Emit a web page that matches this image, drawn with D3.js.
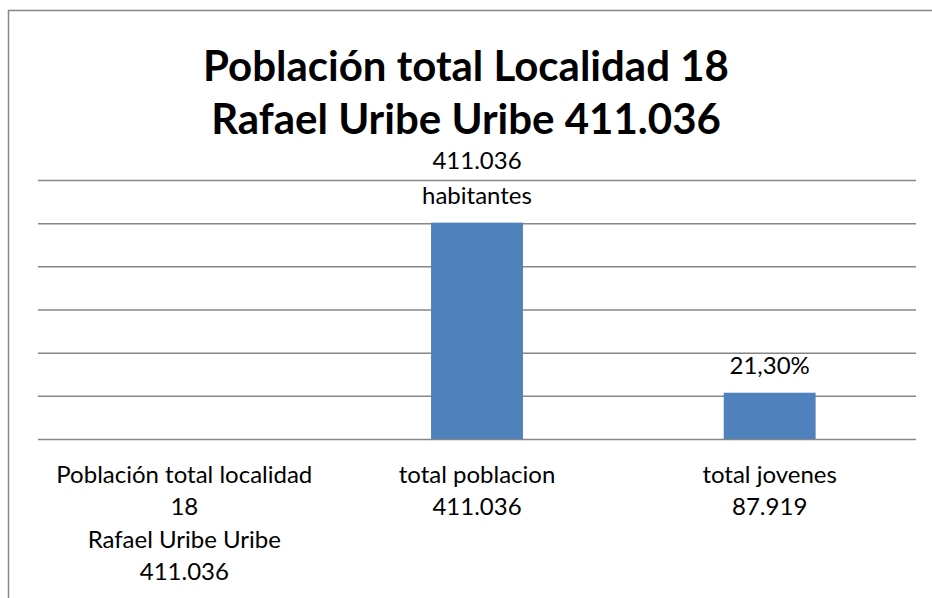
<!DOCTYPE html>
<html>
<head>
<meta charset="utf-8">
<script src="https://cdn.jsdelivr.net/npm/d3@7"></script>
<style>
  html, body { margin: 0; padding: 0; background: #fff; }
  svg { display: block; font-family: Lato, "Open Sans", sans-serif; }
</style>
</head>
<body>
<svg id="chart" width="932" height="598"></svg>
<script>
'use strict';

// Datos del gráfico
var titulo = ['Población total Localidad 18', 'Rafael Uribe Uribe 411.036'];
var categorias = ['cat1', 'cat2', 'cat3'];
var etiquetasCategoria = [
  ['Población total localidad', '18', 'Rafael Uribe Uribe', '411.036'],
  ['total poblacion', '411.036'],
  ['total jovenes', '87.919']
];
var valores = [null, 411036, 87919];
var etiquetasDatos = [null, ['411.036', 'habitantes'], ['21,30%']];
var ejeMax = 492000;
var ejeTicks = [0, 82000, 164000, 246000, 328000, 410000, 492000];

(function() {
  var svg = d3.select('#chart');
  var gris = '#868686';

  // Marco del gráfico (se sale por la derecha y por abajo)
  svg.append('rect')
    .attr('x', 8.5).attr('y', 10.5)
    .attr('width', 1000).attr('height', 1000)
    .attr('fill', 'none').attr('stroke', gris).attr('stroke-width', 1.5);

  // Título
  svg.selectAll('text.titulo').data(titulo).enter().append('text')
    .attr('class', 'titulo')
    .attr('x', 466).attr('y', function(d, i) { return 81 + i*53; })
    .attr('text-anchor', 'middle')
    .attr('font-size', 42).attr('font-weight', 'bold').attr('fill', '#000')
    .text(function(d) { return d; });

  var x = d3.scaleBand().domain(categorias).range([38, 916])
    .paddingInner(0.686).paddingOuter(0.343);
  var y = d3.scaleLinear().domain([0, ejeMax]).range([439, 180]);

  // Líneas de división
  var ejeY = d3.axisLeft(y).tickValues(ejeTicks).tickSize(-(916 - 38)).tickFormat('');
  var g = svg.append('g').attr('transform', 'translate(38,0)').call(ejeY);
  g.select('.domain').remove();
  g.selectAll('.tick line').attr('stroke', gris).attr('stroke-width', 1.5);

  // Barras
  var datos = categorias.map(function(c, i) {
    return { cat: c, valor: valores[i], etiqueta: etiquetasDatos[i], ejeX: etiquetasCategoria[i] };
  });
  svg.selectAll('rect.barra').data(datos.filter(function(d) { return d.valor != null; }))
    .enter().append('rect')
    .attr('class', 'barra')
    .attr('x', function(d) { return x(d.cat); })
    .attr('width', x.bandwidth())
    .attr('y', function(d) { return y(d.valor); })
    .attr('height', function(d) { return y(0) - y(d.valor); })
    .attr('fill', '#4F81BD');

  // Etiquetas de datos (encima de la barra)
  datos.forEach(function(d) {
    if (!d.etiqueta) return;
    var cx = x(d.cat) + x.bandwidth()/2;
    var n = d.etiqueta.length;
    d.etiqueta.forEach(function(t, i) {
      svg.append('text')
        .attr('x', cx)
        .attr('y', y(d.valor) - 19 - (n - 1 - i)*35)
        .attr('text-anchor', 'middle')
        .attr('font-size', 24).attr('fill', '#000')
        .text(t);
    });
  });

  // Etiquetas del eje de categorías
  datos.forEach(function(d) {
    var cx = x(d.cat) + x.bandwidth()/2;
    d.ejeX.forEach(function(t, i) {
      svg.append('text')
        .attr('x', cx).attr('y', 483 + i*32.3)
        .attr('text-anchor', 'middle')
        .attr('font-size', 24).attr('fill', '#000')
        .text(t);
    });
  });
})();
</script>
</body>
</html>
